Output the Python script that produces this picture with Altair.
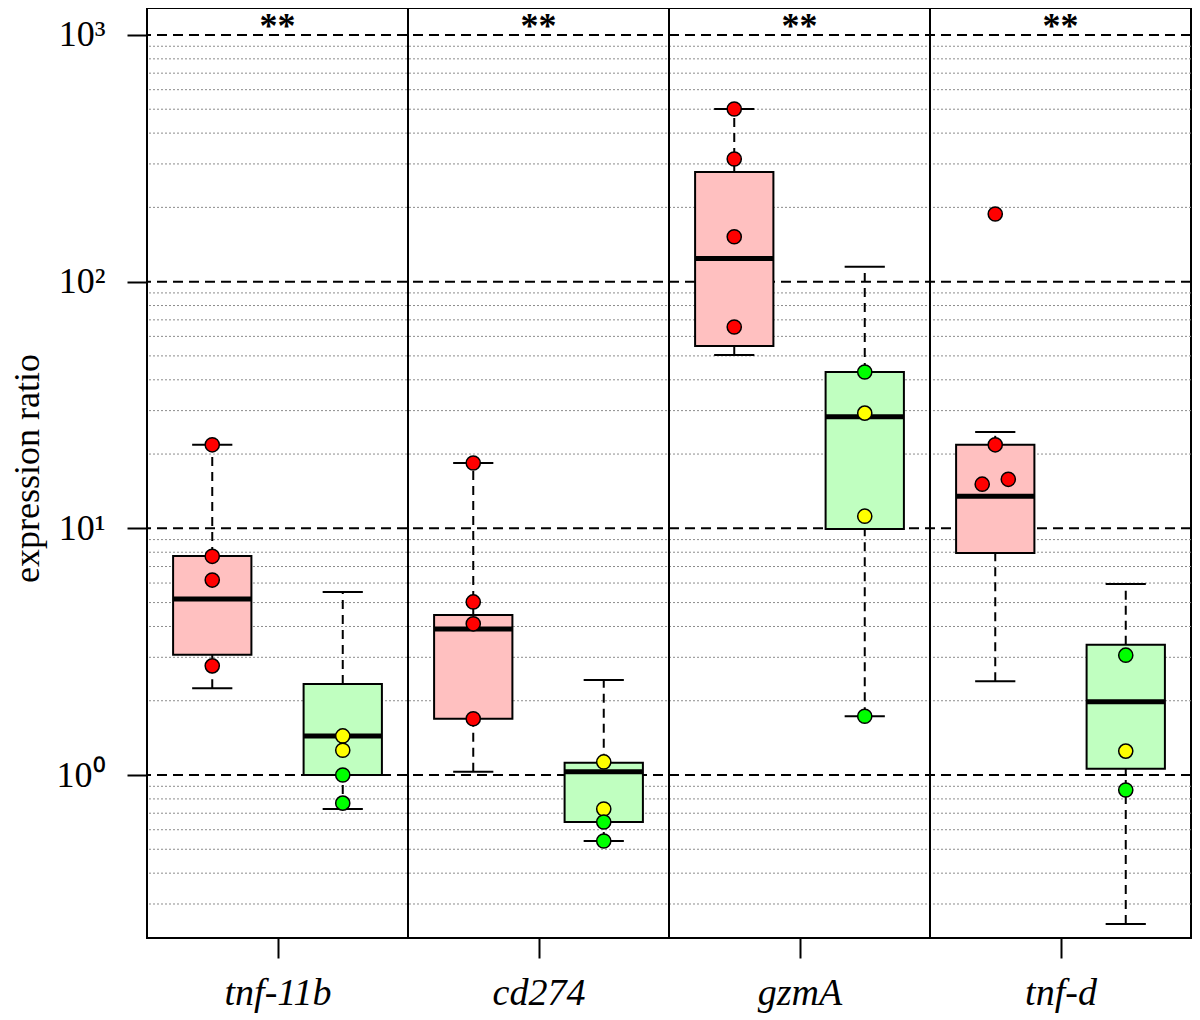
import json
import altair as alt
import pandas as pd

# ---------------- data ----------------
genes = ["tnf-11b", "cd274", "gzmA", "tnf-d"]
significance = ["**", "**", "**", "**"]

# box statistics (lower whisker, Q1, median, Q3, upper whisker)
red_lo = [2.25, 1.03, 50.4, 2.40]
red_q1 = [3.07, 1.69, 54.8, 7.94]
red_med = [5.17, 3.91, 124.0, 13.5]
red_q3 = [7.72, 4.45, 278.0, 21.8]
red_hi = [21.8, 18.4, 501.0, 24.6]

green_lo = [0.728, 0.540, 1.73, 0.249]
green_q1 = [1.00, 0.645, 9.94, 1.06]
green_med = [1.44, 1.03, 28.3, 1.98]
green_q3 = [2.34, 1.12, 43.0, 3.37]
green_hi = [5.52, 2.43, 115.0, 5.95]

# individual points
pt_gene = [0, 0, 0, 0, 0, 0, 0, 0,
           1, 1, 1, 1, 1, 1, 1, 1,
           2, 2, 2, 2, 2, 2, 2, 2,
           3, 3, 3, 3, 3, 3, 3]
pt_group = ["red"] * 4 + ["green"] * 4 + ["red"] * 4 + ["green"] * 4 + \
           ["red"] * 4 + ["green"] * 4 + ["red"] * 4 + ["green"] * 3
pt_value = [21.8, 7.7, 6.17, 2.77, 1.44, 1.26, 1.0, 0.769,
            18.4, 5.03, 4.10, 1.69, 1.13, 0.728, 0.645, 0.540,
            501.0, 314.0, 152.0, 65.5, 43.0, 29.3, 11.2, 1.73,
            188.0, 21.8, 15.8, 15.1, 3.06, 1.25, 0.869]
pt_color = ["red", "red", "red", "red", "yellow", "yellow", "green", "green",
            "red", "red", "red", "red", "yellow", "yellow", "green", "green",
            "red", "red", "red", "red", "green", "yellow", "yellow", "green",
            "red", "red", "red", "red", "green", "yellow", "green"]
pt_jitter = [0] * 24 + [0, 0, 0.05, -0.05, 0, 0, 0]

major_ticks = [1, 10, 100, 1000]
minor_ticks = [0.3, 0.4, 0.5, 0.6, 0.7, 0.8, 0.9,
               2, 3, 4, 5, 6, 7, 8, 9,
               20, 30, 40, 50, 60, 70, 80, 90,
               200, 300, 400, 500, 600, 700, 800, 900]
dividers = [1, 2, 3]

# ---------------- styles ----------------
group_offset = {"red": 0.25, "green": 0.75}
box_fill = {"red": "#FFC0C0", "green": "#C0FFC0"}
point_fill = {"red": "#FF0000", "yellow": "#FFFF00", "green": "#00FF00"}
half_box = 0.15
half_cap = 0.077
FONT = "Liberation Serif"

rows = []
for g in range(len(genes)):
    for grp, lo, q1, md, q3, hi in (
        ("red", red_lo, red_q1, red_med, red_q3, red_hi),
        ("green", green_lo, green_q1, green_med, green_q3, green_hi),
    ):
        pos = g + group_offset[grp]
        rows.append(dict(pos=pos, xl=pos - half_box, xr=pos + half_box,
                         cl=pos - half_cap, cr=pos + half_cap,
                         lo=lo[g], q1=q1[g], med=md[g], q3=q3[g], hi=hi[g],
                         fill=box_fill[grp]))
boxes = pd.DataFrame(rows)

points = pd.DataFrame(dict(
    px=[g + group_offset[grp] + j for g, grp, j in zip(pt_gene, pt_group, pt_jitter)],
    value=pt_value,
    col=[point_fill[c] for c in pt_color],
))
stars = pd.DataFrame(dict(pos=[i + 0.5 for i in range(len(genes))], sig=significance))
minor_df = pd.DataFrame(dict(v=minor_ticks))
major_df = pd.DataFrame(dict(v=major_ticks))
div_df = pd.DataFrame(dict(x=dividers))

xscale = alt.Scale(domain=[0, 4], nice=False, zero=False)
yscale = alt.Scale(type="log", domain=[0.2184, 1286], nice=False)

xax = alt.Axis(values=[i + 0.5 for i in range(len(genes))],
               labelExpr=json.dumps(genes) + "[floor(datum.value)]",
               title=None, grid=False, domain=False,
               tickSize=20, tickWidth=2, tickColor="black",
               labelFont=FONT, labelFontSize=38, labelFontStyle="italic",
               labelColor="black", labelPadding=16)
yax = alt.Axis(values=major_ticks,
               labelExpr="'10' + ['⁰','¹','²','³'][round(log(datum.value)/LN10)]",
               title="expression ratio", grid=False, domain=False,
               tickSize=20, tickWidth=2, tickColor="black",
               labelFont=FONT, labelFontSize=36, labelColor="black",
               labelPadding=22,
               titleFont=FONT, titleFontSize=36, titleFontWeight="normal",
               titleColor="black", titleX=-120, titleY=460,
               titleAlign="center", titleBaseline="middle", titleAngle=270)

X = lambda f: alt.X(f, type="quantitative", scale=xscale, axis=xax)
Y = lambda f: alt.Y(f, type="quantitative", scale=yscale, axis=yax)

minor = alt.Chart(minor_df).mark_rule(color="#8c8c8c", strokeDash=[2, 2], strokeWidth=1).encode(y=Y("v"))
major = alt.Chart(major_df).mark_rule(color="black", strokeDash=[10, 6], strokeWidth=2).encode(y=Y("v"))
divs = alt.Chart(div_df).mark_rule(color="black", strokeWidth=2).encode(x=X("x"))

base = alt.Chart(boxes)
wh_up = base.mark_rule(color="black", strokeDash=[9, 6], strokeWidth=2).encode(x=X("pos"), y=Y("q3"), y2="hi")
wh_lo = base.mark_rule(color="black", strokeDash=[9, 6], strokeWidth=2).encode(x=X("pos"), y=Y("lo"), y2="q1")
cap_up = base.mark_rule(color="black", strokeWidth=2).encode(x=X("cl"), x2="cr", y=Y("hi"))
cap_lo = base.mark_rule(color="black", strokeWidth=2).encode(x=X("cl"), x2="cr", y=Y("lo"))
rects = base.mark_rect(stroke="black", strokeWidth=2).encode(
    x=X("xl"), x2="xr", y=Y("q1"), y2="q3", fill=alt.Fill("fill:N", scale=None))
meds = base.mark_rule(color="black", strokeWidth=5).encode(x=X("xl"), x2="xr", y=Y("med"))

pts = alt.Chart(points).mark_circle(size=200, stroke="black", strokeWidth=1.5, opacity=1).encode(
    x=X("px"), y=Y("value"), fill=alt.Fill("col:N", scale=None))

star_txt = alt.Chart(stars).mark_text(font=FONT, fontSize=36, fontWeight="bold",
                                      baseline="top", align="center", color="black").encode(
    x=X("pos"), y=alt.value(2), text="sig:N")

chart = alt.layer(minor, major, divs, wh_up, wh_lo, cap_up, cap_lo, rects, meds, pts, star_txt).properties(
    width=1044, height=930,
    padding={"left": 139, "top": 0, "right": 1, "bottom": 82},
    autosize=alt.AutoSizeParams(type="none"),
    background="white",
).configure_view(stroke="black", strokeWidth=2)

chart.save("out.html", embed_options={"renderer": "svg", "actions": False})
